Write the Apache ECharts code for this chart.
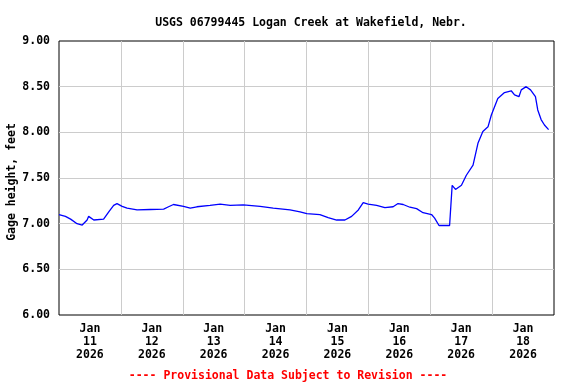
<!DOCTYPE html>
<html>
<head>
<meta charset="utf-8">
<script src="https://cdn.jsdelivr.net/npm/echarts@6/dist/echarts.min.js"></script>
<style>html,body{margin:0;padding:0;background:#fff}#c{width:576px;height:384px}</style>
</head>
<body>
<div id="c"></div>
<script>
// Hours since Jan 11 2026 00:00
var hours = [0,2.5,4.5,7,9,10.9,11.5,13.5,17.3,19.3,21.2,22.5,24.5,26.4,30.3,35.4,40.6,42.5,44.4,48.3,50.9,53.5,58.6,62.5,66.4,71.5,78,83.1,89.6,93.5,96.1,101.2,104.4,107.7,110.9,113.5,116.1,118,119.9,123.2,126.4,129.6,131.5,133.5,136.1,138.7,141.2,144.5,145.7,147.4,151.5,152.2,152.5,153.8,156.1,158,160.6,162.5,164.4,166.4,167.7,170.2,172.8,175.4,176.7,178.4,179.3,181.2,182.9,184.8,185.7,187,188.3,189.9];
var gage = [7.10,7.08,7.05,7.00,6.985,7.04,7.08,7.04,7.05,7.13,7.20,7.22,7.19,7.17,7.15,7.155,7.16,7.185,7.21,7.19,7.17,7.185,7.20,7.215,7.20,7.205,7.19,7.17,7.15,7.13,7.11,7.10,7.065,7.04,7.04,7.08,7.15,7.23,7.215,7.20,7.175,7.185,7.22,7.21,7.18,7.165,7.12,7.10,7.06,6.98,6.98,7.00,7.42,7.375,7.42,7.53,7.64,7.88,8.01,8.06,8.19,8.37,8.435,8.455,8.41,8.39,8.465,8.50,8.465,8.39,8.245,8.14,8.08,8.03];
var dayLabels = ["Jan\n11\n2026","Jan\n12\n2026","Jan\n13\n2026","Jan\n14\n2026","Jan\n15\n2026","Jan\n16\n2026","Jan\n17\n2026","Jan\n18\n2026"];
var yTicks = [6, 6.5, 7, 7.5, 8, 8.5, 9];
var titleText = "USGS 06799445 Logan Creek at Wakefield, Nebr.";
var yName = "Gage height, feet";
var footnote = "---- Provisional Data Subject to Revision ----";

var FONT = "DejaVu Sans Mono";
var pts = hours.map(function(h, i){ return [h, gage[i]]; });
var chart = echarts.init(document.getElementById('c'), null, {renderer:'canvas'});
chart.setOption({
  animation: false,
  backgroundColor: '#fff',
  title: {
    text: titleText, left: 306, top: 12, textAlign: 'center',
    textStyle: {fontFamily: FONT, fontWeight: 'bold', fontSize: 11.5, color: '#000'}
  },
  grid: {left: 59, right: 22, top: 41, bottom: 69, containLabel: false, outerBoundsMode: 'none',
         show: true, borderColor: '#000', borderWidth: 1, backgroundColor: 'transparent'},
  xAxis: [{
    type: 'value', min: 0, max: 192, interval: 24,
    axisLine: {show: false}, axisTick: {show: false}, axisLabel: {show: false},
    splitLine: {show: true, showMinLine: false, showMaxLine: false, lineStyle: {color: '#cccccc', width: 1}}
  }, {
    type: 'category', data: dayLabels, boundaryGap: true, position: 'bottom',
    axisLine: {show: false}, axisTick: {show: false}, splitLine: {show: false},
    axisLabel: {interval: 0, margin: 8, lineHeight: 13, fontFamily: FONT, fontWeight: 'bold', fontSize: 11.5, color: '#000'}
  }],
  yAxis: {
    type: 'value', min: yTicks[0], max: yTicks[yTicks.length-1], interval: 0.5,
    axisLine: {show: false}, axisTick: {show: false},
    axisLabel: {margin: 9, formatter: function(v){ return v.toFixed(2); }, fontFamily: FONT, fontWeight: 'bold', fontSize: 11.5, color: '#000'},
    splitLine: {show: true, showMinLine: false, showMaxLine: false, lineStyle: {color: '#cccccc', width: 1}}
  },
  graphic: [{
    type: 'text', left: 'center', top: 370,
    style: {text: footnote, fontFamily: FONT, fontWeight: 'bold', fontSize: 11.5, fill: '#ff0000'}
  }, {
    type: 'text', x: 12, y: 182, rotation: Math.PI / 2,
    style: {text: yName, fontFamily: FONT, fontWeight: 'bold', fontSize: 11.5, fill: '#000',
            align: 'center', verticalAlign: 'middle'}
  }],
  series: [{
    type: 'line', xAxisIndex: 0, data: pts, showSymbol: false,
    lineStyle: {color: '#0000ff', width: 1.3}, itemStyle: {color: '#0000ff'}
  }]
});
</script>
</body>
</html>
